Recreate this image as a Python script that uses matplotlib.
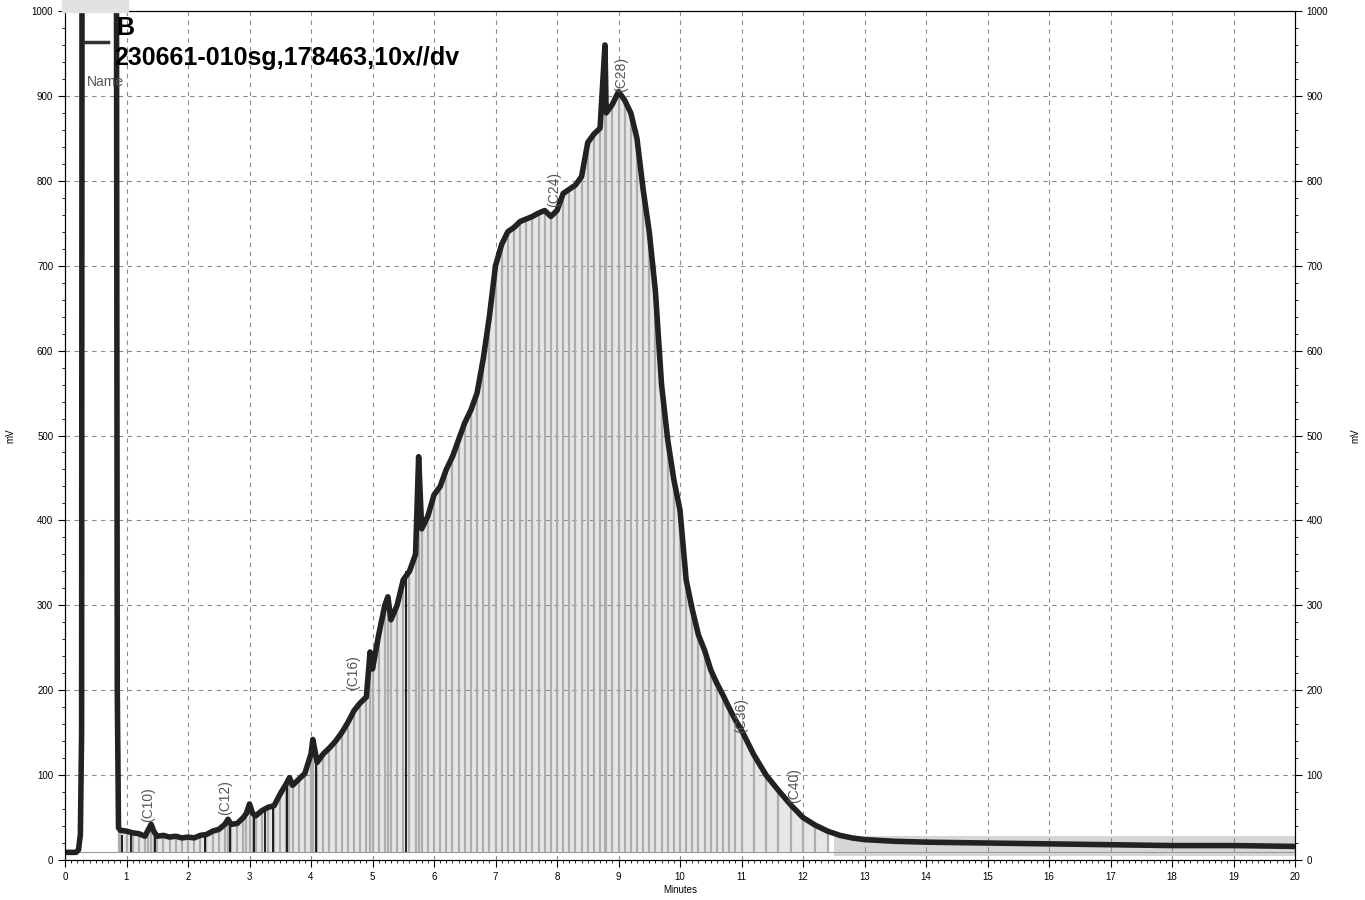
import matplotlib
matplotlib.use("Agg")
import matplotlib.pyplot as plt
import numpy as np
from matplotlib.ticker import MultipleLocator

plt.rcParams['font.family'] = ['Liberation Sans', 'DejaVu Sans']

# detector trace (minutes, mV)
t = [0.0, 0.1, 0.18, 0.22, 0.25, 0.27, 0.28, 0.5, 0.83, 0.85, 0.87,
     0.9, 1.0, 1.1, 1.2, 1.3, 1.35, 1.4, 1.45, 1.5, 1.6, 1.7, 1.8, 1.9,
     2.0, 2.1, 2.2, 2.3, 2.4, 2.5, 2.6, 2.65, 2.7, 2.8, 2.9, 2.95,
     3.0, 3.05, 3.1, 3.2, 3.3, 3.4, 3.5, 3.6, 3.65, 3.7, 3.8, 3.9,
     4.0, 4.03, 4.1, 4.2, 4.3, 4.4, 4.5, 4.6, 4.7, 4.8, 4.9, 4.96,
     5.0, 5.1, 5.2, 5.25, 5.3, 5.4, 5.5, 5.6, 5.7, 5.75, 5.8, 5.9,
     6.0, 6.1, 6.2, 6.3, 6.4, 6.5, 6.6, 6.7, 6.8, 6.9,
     7.0, 7.1, 7.2, 7.3, 7.4, 7.5, 7.6, 7.7, 7.8, 7.9,
     8.0, 8.1, 8.2, 8.3, 8.4, 8.5, 8.6, 8.7, 8.78, 8.8, 8.9,
     9.0, 9.1, 9.2, 9.3, 9.4, 9.5, 9.6, 9.7, 9.8, 9.9,
     10.0, 10.1, 10.2, 10.3, 10.4, 10.5, 10.6, 10.7, 10.8, 10.9,
     11.0, 11.2, 11.4, 11.6, 11.8, 12.0, 12.2, 12.4, 12.6, 12.8,
     13.0, 13.5, 14.0, 15.0, 16.0, 17.0, 18.0, 19.0, 20.0]
mv = [9, 9, 9, 12, 30, 150, 1500, 1500, 1500, 200, 38,
      35, 34, 32, 31, 28, 35, 42, 33, 28, 29, 27, 28, 26,
      27, 26, 29, 30, 34, 36, 42, 48, 42, 43, 50, 55,
      66, 55, 52, 58, 62, 64, 78, 90, 97, 88, 95, 102,
      125, 142, 115, 125, 132, 140, 150, 162, 176, 185, 192, 245,
      225, 265, 300, 310, 283, 300, 330, 340, 360, 475, 390, 405,
      430, 440, 460, 475, 495, 515, 530, 550, 590, 640,
      700, 725, 740, 745, 752, 755, 758, 762, 765, 758,
      765, 785, 790, 795, 805, 845, 855, 862, 960, 880, 890,
      905, 895, 880, 850, 790, 740, 670, 560, 495, 448,
      412, 330, 295, 265, 247, 224, 208, 194, 179, 165,
      153, 124, 100, 82, 65, 50, 41, 34, 29, 26,
      24, 22, 21, 20, 19, 18, 17, 17, 16]

baseline_mv = 10
tail_start = 12.5
tail_band = [5, 28]

# darker drop lines
dark_t = [0.93, 1.07, 1.46, 2.28, 2.68, 3.08, 3.25, 3.38, 3.61, 4.08, 5.55]
dark_top = [30, 30, 35, 33, 45, 55, 60, 62, 90, 125, 340]

# peak names
peak_names = ['(C10)', '(C12)', '(C16)', '(C24)', '(C28)', '(C36)', '(C40)']
peak_t = [1.35, 2.6, 4.68, 7.95, 9.05, 11.0, 11.85]
peak_y = [65, 73, 221, 790, 925, 170, 88]

t = np.array(t)
mv = np.array(mv)

fig = plt.figure(figsize=(13.65, 9), dpi=100)
ax = fig.add_axes([65/1365, 40/900, 1230/1365, 849/900])

# integration drop lines
body = (t > 0.86) & (t < tail_start)
ax.fill_between(t[body], baseline_mv, mv[body], color='0.9', lw=0, zorder=1)
ax.vlines(t[body], baseline_mv, mv[body], color='0.68', lw=1.6, zorder=2)
ax.fill_between([tail_start, 20], tail_band[0], tail_band[1], color='0.84', lw=0, zorder=1)
ax.vlines(dark_t, baseline_mv, dark_top, color='black', lw=1.2, zorder=3)
ax.plot([0, 20], [baseline_mv, baseline_mv], color='0.6', lw=0.8, zorder=2)

ax.plot(t, mv, color='#222222', lw=4, zorder=4)

for name, x, y in zip(peak_names, peak_t, peak_y):
    ax.text(x, y, name, rotation=90, ha='center', va='center',
            fontsize=10, color='#555555', zorder=5)

ax.set_xlim(0, 20)
ax.set_ylim(0, 1000)
ax.xaxis.set_major_locator(MultipleLocator(1))
ax.xaxis.set_minor_locator(MultipleLocator(0.1))
ax.yaxis.set_major_locator(MultipleLocator(100))
ax.yaxis.set_minor_locator(MultipleLocator(20))
ax.grid(True, which='major', color='0.55', ls=(0, (4, 4)), lw=0.8)
ax.tick_params(which='major', length=5, labelsize=7, direction='out')
ax.tick_params(which='minor', length=2.5, direction='out')
ax.set_xlabel('Minutes', fontsize=7, labelpad=2)
ax.set_ylabel('mV', fontsize=7)
ax.yaxis.set_label_coords(-50/1230, 0.5)

ax2 = ax.twinx()
ax2.set_ylim(0, 1000)
ax2.yaxis.set_major_locator(MultipleLocator(100))
ax2.yaxis.set_minor_locator(MultipleLocator(20))
ax2.tick_params(which='major', length=5, labelsize=7, direction='out')
ax2.tick_params(which='minor', length=2.5, direction='out')
ax2.set_ylabel('mV', fontsize=7)
ax2.yaxis.set_label_coords(1 + 55/1230, 0.5)

# legend block in top-left
fig.patches.append(plt.Rectangle((62/1365, 1 - 12/900), 66/1365, 12/900,
                                 transform=fig.transFigure, color='#e2e2e2', zorder=10))
fig.lines.append(plt.Line2D([85/1365, 108/1365], [1 - 42/900, 1 - 42/900],
                            transform=fig.transFigure, color='#333333', lw=2.5))
fig.text(116/1365, 1 - 28/900, 'B', fontsize=18, fontweight='bold', va='center')
fig.text(114/1365, 1 - 58/900, '230661-010sg,178463,10x//dv', fontsize=18,
         fontweight='bold', va='center')
fig.text(87/1365, 1 - 82/900, 'Name', fontsize=10, color='#555555', va='center')

fig.savefig('out.png', dpi=100)
